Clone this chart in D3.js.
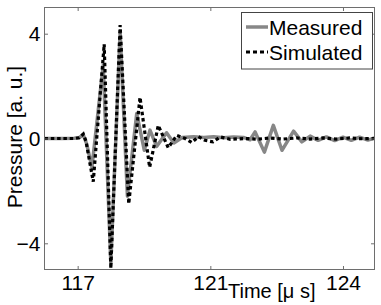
<!DOCTYPE html>
<html><head><meta charset="utf-8">
<script src="https://cdn.jsdelivr.net/npm/d3@7"></script>
<style>
html,body{margin:0;padding:0;background:#fff;}
svg{display:block;}
text{font-family:"Liberation Sans",Arial,Helvetica,sans-serif;fill:#000;}
</style></head>
<body>
<script>
// ---- data ----
const measuredT = [116.0,116.5,116.9,117.05,117.17,117.27,117.43,117.77,118.0,118.28,118.5,118.78,119.01,119.18,119.38,119.68,119.9,120.15,120.5,120.8,121.1,121.4,121.7,122.0,122.2,122.35,122.63,122.9,123.16,123.51,123.76,124.01,124.25,124.5,124.75,125.0,125.25,125.5,125.75,125.95];
const measuredV = [0,0,0.01,0.04,0.14,-0.2,-1.1,2.8,-4.75,4.05,-2.2,0.95,-0.45,0.32,-0.3,0.22,-0.17,0.04,0.07,0.04,0.07,0.03,0.06,0.04,-0.05,0.25,-0.52,0.5,-0.45,0.28,-0.13,0.09,-0.07,0.06,-0.08,0.05,-0.07,0.05,-0.06,0.02];
const simulatedT = [116.0,116.9,117.05,117.17,117.25,117.47,117.8,118.0,118.28,118.54,118.88,119.17,119.43,119.73,119.99,120.24,120.44,120.64,120.84,121.08,121.3,121.6,122.1,122.4,122.8,123.2,123.6,124.0,124.4,124.8,125.2,125.6,125.95];
const simulatedV = [0,0,0.03,0.17,-0.1,-1.65,3.6,-4.96,4.33,-2.49,1.57,-1.1,0.5,-0.35,0.12,0.0,-0.15,0.07,-0.07,-0.13,0.06,-0.03,0.0,-0.03,0.02,-0.02,0.02,-0.02,0.02,-0.02,0.02,-0.01,0.0];
const xTickValues = [117,121,125];
const xTickLabels = ["117","121","124"];
const yTickValues = [-4,0,4];
const yTickLabels = ["\u22124","0","4"];
const seriesNames = ["Measured","Simulated"];
const xLabel = "Time [\u03bc s]";
const yLabel = "Pressure [a. u.]";

// ---- layout ----
const W = 381, H = 305;
const L = 44.5, R = 374.5, T = 7.5, B = 269.5;
const svg = d3.select("body").append("svg").attr("width",W).attr("height",H);
const x = d3.scaleLinear().domain([116,125.95]).range([L,R]);
const y = d3.scaleLinear().domain([-5,5]).range([B,T]);
const FS = 21;

svg.append("defs").append("clipPath").attr("id","clip")
  .append("rect").attr("x",L).attr("y",T).attr("width",R-L).attr("height",B-T);

const line = d3.line().x(d=>x(d[0])).y(d=>y(d[1]));
const meas = measuredT.map((t,i)=>[t,measuredV[i]]);
const sim = simulatedT.map((t,i)=>[t,simulatedV[i]]);

const g = svg.append("g").attr("clip-path","url(#clip)");
g.append("path").datum(meas).attr("d",line).attr("fill","none")
  .attr("stroke","#878787").attr("stroke-width",3.5).attr("stroke-linejoin","round");
g.append("path").datum(sim).attr("d",line).attr("fill","none")
  .attr("stroke","#000").attr("stroke-width",3.2).attr("stroke-dasharray","3.5,2.8");

// axes box
const axCol = "#6e6e6e";
svg.append("rect").attr("x",L).attr("y",T).attr("width",R-L).attr("height",B-T)
  .attr("fill","none").attr("stroke",axCol).attr("stroke-width",1);

// ticks (inside) using d3 axes
const tl = 3.5;
const axB = d3.axisBottom(x).tickValues(xTickValues).tickSize(-tl).tickFormat((d,i)=>xTickLabels[i]);
const axT = d3.axisTop(x).tickValues(xTickValues).tickSize(-tl).tickFormat("");
const axL = d3.axisLeft(y).tickValues(yTickValues).tickSize(-tl).tickFormat((d,i)=>yTickLabels[i]);
const axR = d3.axisRight(y).tickValues(yTickValues).tickSize(-tl).tickFormat("");
function style(sel){
  sel.select(".domain").remove();
  sel.selectAll(".tick line").attr("stroke",axCol);
  sel.selectAll(".tick text").attr("font-size",FS).attr("font-family","Liberation Sans, Arial, sans-serif").attr("fill","#000");
}
svg.append("g").attr("transform",`translate(0,${B})`).call(axB).call(style)
  .selectAll(".tick text").attr("y",6).attr("dy","0.71em");
svg.append("g").attr("transform",`translate(0,${T})`).call(axT).call(style);
svg.append("g").attr("transform",`translate(${L},0)`).call(axL).call(style)
  .selectAll(".tick text").attr("x",-4);
svg.append("g").attr("transform",`translate(${R},0)`).call(axR).call(style);

// axis labels
svg.append("text").attr("x",228).attr("y",297.5).attr("text-anchor","start")
  .attr("font-size",20).text(xLabel);
svg.append("text").attr("transform","translate(22,137) rotate(-90)").attr("text-anchor","middle")
  .attr("font-size",FS).text(yLabel);

// legend
const lg = svg.append("g");
lg.append("rect").attr("x",241.5).attr("y",12.5).attr("width",131).attr("height",56.5)
  .attr("fill","#fff").attr("stroke","#444").attr("stroke-width",1);
const legY = [27,52];
lg.append("line").attr("x1",246).attr("x2",268).attr("y1",legY[0]).attr("y2",legY[0])
  .attr("stroke","#878787").attr("stroke-width",3.5);
lg.append("line").attr("x1",246).attr("x2",268).attr("y1",legY[1]).attr("y2",legY[1])
  .attr("stroke","#000").attr("stroke-width",3.2).attr("stroke-dasharray","4,3");
seriesNames.forEach((n,i)=>{
  lg.append("text").attr("x",269).attr("y",legY[i]+7.5).attr("font-size",FS).text(n);
});
</script>
</body></html>
